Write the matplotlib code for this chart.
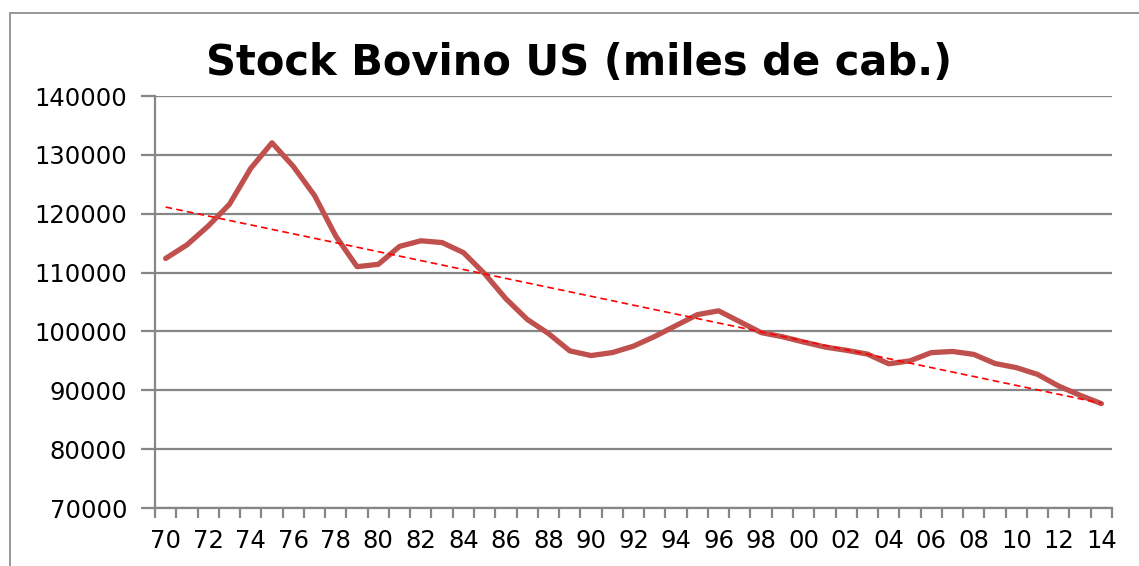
import matplotlib
matplotlib.use("Agg")
import matplotlib.pyplot as plt
import numpy as np
from matplotlib.patches import Rectangle

# stock bovino US, 1 de enero (miles de cabezas)
years = list(range(1970, 2015))
stock = [112400, 114700, 117900, 121600, 127700, 132050, 128050, 123100,
         116200, 111000, 111400, 114450, 115400, 115100, 113400, 109800,
         105550, 102050, 99650, 96700, 95900, 96400, 97500, 99150,
         101000, 102850, 103500, 101650, 99800, 99100, 98200, 97350,
         96800, 96150, 94500, 95000, 96400, 96600, 96100, 94550,
         93850, 92700, 90700, 89150, 87730]
y_ticks = [70000, 80000, 90000, 100000, 110000, 120000, 130000, 140000]
x_labels = ["%02d" % (y % 100) for y in years[::2]]

grid_col = "#868686"

fig = plt.figure(figsize=(11.39, 5.66), dpi=100)
ax = fig.add_axes([155/1139, 1 - 508/566, (1112-155)/1139, (508-96)/566])

ax.plot(years, stock, color="#C0504D", lw=3.8, solid_joinstyle="round",
        solid_capstyle="round", zorder=3)

# linea de tendencia lineal
coef = np.polyfit(years, stock, 1)
trend = np.polyval(coef, years)
ax.plot(years, trend, color="#FF0000", lw=1.2, ls=(0, (4, 2.5)), zorder=4)

ax.set_xlim(1969.5, 2014.5)
ax.set_ylim(70000, 140000)
ax.set_yticks(y_ticks)
ax.set_yticklabels([str(v) for v in y_ticks])
ax.set_xticks(years[::2])
ax.set_xticklabels(x_labels)
ax.set_xticks(np.arange(1969.5, 2015, 1), minor=True)

ax.grid(axis="y", color=grid_col, lw=1.6)
ax.set_axisbelow(True)
for s in ["top", "right"]:
    ax.spines[s].set_visible(False)
for s in ["left", "bottom"]:
    ax.spines[s].set_color(grid_col)
    ax.spines[s].set_linewidth(1.6)

ax.tick_params(axis="y", length=10, width=1.6, color=grid_col, labelsize=17.5, pad=10)
ax.tick_params(axis="x", which="major", length=0, labelsize=17.5, pad=15)
ax.tick_params(axis="x", which="minor", length=7, width=1.6, color=grid_col)

fig.text(0.508, 1 - 63/566, "Stock Bovino US (miles de cab.)", ha="center",
         va="center", fontsize=30, fontweight="bold")

fig.patches.append(Rectangle((10/1139, -0.05), 1.2, 1 - 13/566 + 0.05,
                             transform=fig.transFigure, fill=False,
                             edgecolor=grid_col, lw=1.2))

plt.savefig("out.png", dpi=100)
